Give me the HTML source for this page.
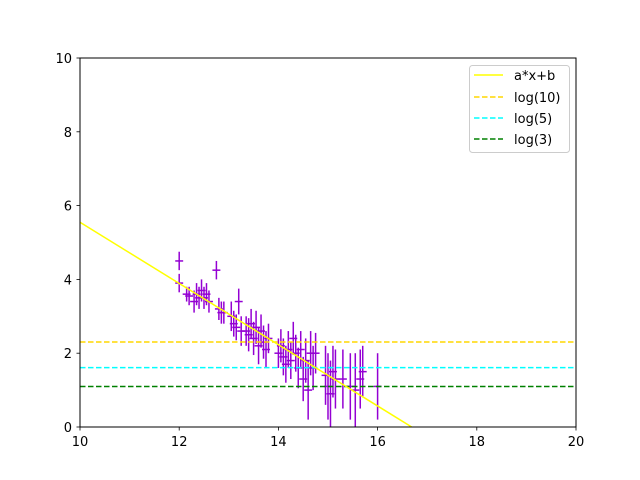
<!DOCTYPE html>
<html><head><meta charset="utf-8"><style>
html,body{margin:0;padding:0;background:#fff;overflow:hidden;width:640px;height:480px}
svg{display:block}
svg text{font-family:"DejaVu Sans","Liberation Sans",sans-serif;font-size:13px}
</style></head><body>
<svg id="chart" width="640" height="480" xmlns="http://www.w3.org/2000/svg">
<rect width="640" height="480" fill="#fff"/>
<g id="marks"></g>
<rect x="80" y="58" width="496" height="369" fill="none" stroke="#000" stroke-width="1"/>
<g id="axes"></g>
<g>
<rect x="469.5" y="65.5" width="100" height="87" rx="3" fill="#fff" fill-opacity="0.8" stroke="#ccc"/>
<g><line x1="474" y1="75" x2="503" y2="75" stroke="#ffff00" stroke-width="1.5"/><text x="514" y="80">a*x+b</text></g>
<g><line x1="474" y1="97" x2="503" y2="97" stroke="#ffd700" stroke-width="1.5" stroke-dasharray="5.5,2.5"/><text x="514" y="102">log(10)</text></g>
<g><line x1="474" y1="118" x2="503" y2="118" stroke="#00ffff" stroke-width="1.5" stroke-dasharray="5.5,2.5"/><text x="514" y="123">log(5)</text></g>
<g><line x1="474" y1="139" x2="503" y2="139" stroke="#008000" stroke-width="1.5" stroke-dasharray="5.5,2.5"/><text x="514" y="144">log(3)</text></g>
</g>
</svg>
<script>
const xs=[12.0,12.0,12.15,12.2,12.3,12.35,12.4,12.45,12.5,12.55,12.6,12.75,12.8,12.85,12.9,13.05,13.1,13.15,13.2,13.25,13.35,13.4,13.45,13.5,13.55,13.6,13.65,13.7,13.75,13.8,14.0,14.05,14.1,14.15,14.2,14.25,14.3,14.35,14.4,14.45,14.5,14.55,14.6,14.65,14.7,14.75,14.95,15.0,15.05,15.1,15.15,15.3,15.45,15.55,15.65,15.7,16.0];
const ys=[4.5,3.9,3.6,3.55,3.4,3.6,3.5,3.7,3.5,3.6,3.4,4.25,3.2,3.1,3.1,3.0,2.8,2.7,3.4,2.6,2.6,2.5,2.8,2.4,2.7,2.2,2.6,2.3,2.1,2.4,2.0,2.2,1.9,1.7,2.1,1.8,2.4,2.0,1.6,2.1,1.3,1.8,1.0,2.0,1.6,2.0,1.4,1.1,0.9,1.5,1.3,1.3,1.1,1.0,1.3,1.5,1.1];
const yerrs=[0.25,0.25,0.2,0.25,0.3,0.3,0.3,0.3,0.3,0.3,0.3,0.25,0.3,0.3,0.3,0.4,0.35,0.35,0.35,0.4,0.4,0.45,0.4,0.45,0.45,0.5,0.45,0.45,0.5,0.4,0.4,0.45,0.5,0.5,0.5,0.5,0.45,0.5,0.55,0.5,0.6,0.6,0.8,0.6,0.6,0.55,0.8,0.9,0.9,0.7,0.8,0.8,0.9,1.0,0.8,0.7,0.9];
const xerr=0.08;
const fitA=-0.83, fitB=13.85;
const hlines=[["log10",Math.log(10),"#ffd700"],["log5",Math.log(5),"#00ffff"],["log3",Math.log(3),"#008000"]];
const xTicks=[10,12,14,16,18,20];
const yTicks=[0,2,4,6,8,10];
const X=v=>80+(v-10)*49.6, Y=v=>427-v*36.9;
const NS="http://www.w3.org/2000/svg";
const marks=document.getElementById('marks'), axes=document.getElementById('axes');
function ln(p,x1,y1,x2,y2,c,w,d){const l=document.createElementNS(NS,'line');l.setAttribute('x1',x1);l.setAttribute('y1',y1);l.setAttribute('x2',x2);l.setAttribute('y2',y2);l.setAttribute('stroke',c);l.setAttribute('stroke-width',w);if(d)l.setAttribute('stroke-dasharray',d);p.appendChild(l);return l;}
const cp=document.createElementNS(NS,'clipPath');cp.setAttribute('id','clip');const cr=document.createElementNS(NS,'rect');cr.setAttribute('x',80);cr.setAttribute('y',58);cr.setAttribute('width',496);cr.setAttribute('height',369);cp.appendChild(cr);marks.appendChild(cp);
const g=document.createElementNS(NS,'g');g.setAttribute('clip-path','url(#clip)');marks.appendChild(g);
xs.forEach((x,i)=>{const e=document.createElementNS(NS,'g');


ln(e,X(x),Y(ys[i]-yerrs[i]),X(x),Y(ys[i]+yerrs[i]),'#9400d3',1.5);
ln(e,X(x-xerr),Y(ys[i]),X(x+xerr),Y(ys[i]),'#9400d3',1.5);g.appendChild(e);});
hlines.forEach(h=>{const l=ln(g,80,Y(h[1]),576,Y(h[1]),h[2],1.5,'5.5,2.5');

});
const fl=ln(g,X(10),Y(fitA*10+fitB),X(20),Y(fitA*20+fitB),'#ffff00',1.5);


xTicks.forEach(t=>{ln(axes,X(t),427,X(t),430.5,'#000',0.8);const tx=document.createElementNS(NS,'text');tx.setAttribute('x',X(t));tx.setAttribute('y',446);tx.setAttribute('text-anchor','middle');tx.textContent=t;

axes.appendChild(tx);});
yTicks.forEach(t=>{ln(axes,76.5,Y(t),80,Y(t),'#000',0.8);const tx=document.createElementNS(NS,'text');tx.setAttribute('x',72);tx.setAttribute('y',Y(t)+5);tx.setAttribute('text-anchor','end');tx.textContent=t;

axes.appendChild(tx);});
</script>
</body></html>
